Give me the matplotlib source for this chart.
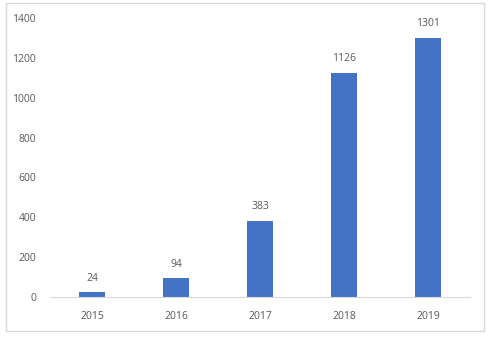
import matplotlib
matplotlib.use("Agg")
import matplotlib.pyplot as plt
from matplotlib.patches import Rectangle

years = ["2015", "2016", "2017", "2018", "2019"]
counts = [24, 94, 383, 1126, 1301]
yticks = [0, 200, 400, 600, 800, 1000, 1200, 1400]

BAR = "#4472c4"
TXT = "#595959"

plt.rcParams["font.family"] = ["Open Sans", "DejaVu Sans"]

fig = plt.figure(figsize=(5.0, 3.39), dpi=100)
fig.patches.append(Rectangle((0.012, 0.023), 0.956, 0.967, transform=fig.transFigure,
                             fill=False, edgecolor="#d9d9d9", linewidth=1.0))
ax = fig.add_axes([0.1, 0.124, 0.84, 0.823])

x = range(len(years))
bars = ax.bar(x, counts, width=0.32, color=BAR, zorder=2)
for xi, v in zip(x, counts):
    ax.annotate(str(v), (xi, v), xytext=(0, 6), textcoords="offset points",
                ha="center", va="bottom", fontsize=7.5, color=TXT)

ax.set_xlim(-0.5, len(years) - 0.5)
ax.set_ylim(0, 1400)
ax.set_yticks(yticks)
ax.set_xticks(list(x))
ax.set_xticklabels(years)
ax.tick_params(length=0, labelsize=7.5, colors=TXT)
ax.tick_params(axis="y", pad=10)
ax.tick_params(axis="x", pad=10)
for s in ["top", "right", "left"]:
    ax.spines[s].set_visible(False)
ax.spines["bottom"].set_color("#d9d9d9")

fig.savefig("out.png", dpi=100)
